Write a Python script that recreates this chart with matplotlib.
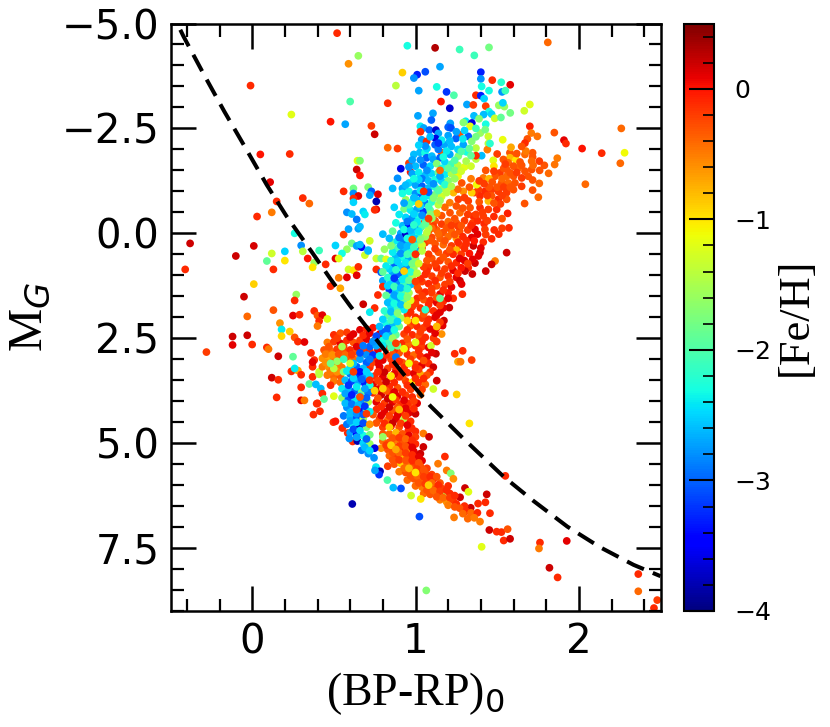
#!/usr/bin/env python3
# Colour-magnitude diagram of stars, coloured by metallicity.

import numpy as np
import matplotlib
matplotlib.use('Agg')
import matplotlib.pyplot as plt
from matplotlib.ticker import MultipleLocator

# Dashed line.
curve_x = [-0.44, -0.42, -0.295, -0.17, -0.04, 0.09, 0.21, 0.375, 0.48, 0.6, 0.72, 0.915, 1.09, 1.293, 1.54, 1.72, 1.93, 2.13, 2.335, 2.5]
curve_y = [-4.85, -4.69, -3.78, -2.9, -2.03, -1.15, -0.41, 0.5, 1.09, 1.73, 2.33, 3.3, 4.11, 4.89, 5.8, 6.37, 6.99, 7.48, 7.9, 8.17]

# Stars as (BP-RP, M_G, [Fe/H]), one list for each part of the diagram.
outliers = [
 (.52,-4.77,-.1),(.65,-4.23,-1.6),(.59,-4.04,-.6),(.95,-4.47,-2.3),(.92,-3.83,-.9),(1.01,-3.78,-3.3),(.99,-3.7,-2.8),
 (-.01,-3.52,-.1),(.88,-3.52,-1.4),(1.02,-3.4,-2.7),(.6,-3.14,-2.0),(.83,-3.1,-.1),(.24,-2.83,-1.2),(.48,-2.66,0),
 (.57,-2.6,-2.7),(.73,-2.56,-.2),(.75,-2.36,.2),(.05,-1.88,0),(.23,-1.89,-.1),(.83,-2.04,-.4),(.89,-2.02,-.2),
 (.99,-1.88,-2.6),(.96,-1.67,-.2),(.645,-1.73,-1.2),(.66,-1.73,-1.7),(.64,-1.52,.2),(.66,-1.38,0),(.91,-1.54,-3.6),
 (.89,-1.31,-2.8),(.97,-1.46,0),(.11,-1.22,.1),(.56,-1.0,-.1),(.62,-1.07,-1.8),(.62,-.95,-2.8),(.65,-.89,.1),
 (.62,-.83,-.1),(.62,-.74,-2.5),(.71,-1.1,-1.7),(.73,-1.0,-3),(.72,-.91,-2.7),(.77,-.93,.1),(.76,-.76,-3.8),
 (.86,-1.07,-2.6),(.92,-1.07,-2.7),(.31,-.84,-.1),(.35,-.71,-.4),(.15,-.76,-.1),(.12,-.5,-.5),(.03,-.4,-.1),
 (.58,-.5,-2.8),(.61,-.46,-2.6),(.68,-.52,-2.5),(.69,-.45,-2.4),(.76,-.57,.1),(.75,-.56,-.1),(.87,-.62,-2.5),
 (-.38,.24,.2),(-.41,.86,-.1),(-.1,.54,.2),(.01,.3,.15),(.12,.48,-1.3),(.09,.66,-1.9),(.13,.86,-.1),(.2,.43,-2.5),
 (.2,.65,-1),(.26,0,-2.3),(.3,.29,-2.8),(.31,.43,-1.4),(.34,.6,0),(.41,.41,-2.1),(.38,.7,-1.6),(.37,.81,-1),
 (.45,.74,-.1),(.56,.03,-.2),(.59,-.1,-2.7),(.64,-.33,-2.9),(.65,-.11,-2.7),(.66,-.16,-2.6),(.51,.29,-2.5),
 (.61,.24,-1.8),(.64,.3,-2.7),(.67,.33,-3.5),(.66,.27,-2.6),(.71,.4,-2.6),(.69,.52,-1.3),(.58,.38,-1.6),(.55,.48,-2.3),
 (.51,.6,.1),(.53,.6,-1.2),(.59,.86,-1.3),(.62,.88,-1),(.65,.8,-.1),(.64,1,.1),(.53,1.06,-.5),(.58,1.05,.1),
 (.48,1.26,-.1),(.54,1.31,-.7),(.01,1.21,-.9),(-.05,1.51,.2),(.27,1.46,-1.6),(.26,1.6,-.1),(.13,1.83,-.3),(-.03,1.98,-.4),
 (.38,1.85,-.1),(.25,1.96,.1),(.29,1.94,-.1),(.4,1.96,-.3),(.43,1.95,.1),(.46,2.04,-1.2),(.41,2.09,-.1),(.4,2.21,-.5),
 (.17,2.14,-.6),(.18,2.29,-2.4),(.23,2.34,-.9),(.18,2.45,-.95),(-.12,2.46,.2),(-.03,2.43,.2),(-.12,2.66,.1),(0,2.65,-.1),
 (-.28,2.83,-.2),(.09,2.72,-.1),(.1,2.76,-.5),(.16,2.93,.2),(.25,2.94,-1.9),(.26,2.48,-.3),(.28,2.58,-.1),(.32,2.59,.1),
 (.24,3.29,-.1),(.28,3.27,-.7),(.26,3.22,-2.4),(.3,3.37,-.1),(.12,3.44,.2),(.16,3.49,-.1),(.15,3.91,-.1),(.3,3.67,-.1),
 (.3,3.98,.1),(.32,3.98,-.5),(.4,4.05,-.1),(.35,3.59,-1.9),(.39,3.6,-2.6),(.42,3.7,-2.6),(.43,3.82,-.1),(.44,3.95,-1.9),
 (.5,3.88,-1.2),(.37,3.18,-.1),(.36,2.85,-.1),(.38,3.02,-.1),(.37,3.07,.1),(.37,3.42,-.1),(.41,3.3,-1.3),(.41,3.36,-1.4),
 (.375,4.32,-.1),(.415,4.24,-.1),(.395,4.06,-.1),(.497,4.5,-.1),(.51,4.48,0),(.552,4.64,-.1),(.585,4.76,-.1),(.615,4.96,-.1),
 (1.81,-4.55,-.4),(1.12,-4.42,.3),(1.27,-4.38,-2.1),(1.36,-4.24,-2.1),(1.45,-4.43,-1.8),(1.15,-3.97,-2.7),(1.06,-3.85,-3.1),
 (1.4,-3.84,-3.3),(1.4,-3.68,-2.8),(1.47,-3.65,-.1),(1.525,-3.6,-2.2),(1.58,-3.54,.1),(1.405,-3.5,-2.3),(1.45,-3.4,-2.3),
 (1.13,-3.49,-2.3),(1.19,-3.37,-3.2),(1.235,-3.29,-2.0),(1.37,-3.29,-.1),(1.4,-3.28,-3.3),(1.42,-3.21,-2.5),(1.53,-3.37,-2.8),
 (1.55,-3.4,-2.1),(1.156,-3.14,0),(1.21,-2.98,-3.7),(1.315,-3.07,-2.7),(1.354,-3.06,-.2),(1.43,-3.03,-.2),(1.51,-3.05,-1.6),
 (1.544,-3.02,-1.6),(1.535,-3.11,-2.5),(1.70,-3.07,-1.2),(1.666,-2.92,-1.3),(1.58,-2.87,-1.8),
 (1.85,-2.4,-.3),(1.909,-2.22,.1),(1.921,-2.14,-.1),(2.02,-2.02,0),(2.14,-1.91,-.1),(2.28,-1.92,-1.1),(2.254,-1.67,-.4),
 (2.26,-2.5,-.4),(2.04,-1.17,-.4),
 (1.33,4.53,-1),(1.55,5.78,-.1),(1.18,5.32,-.1),(1.762,7.37,-.1),(1.756,7.51,-.5),(1.926,7.33,.1),(1.82,7.97,.2),(1.87,8.2,-.1),
 (1.405,7.47,-1.2),(1.066,8.51,-1.7),(2.364,8.12,-.1),(2.364,8.53,-.4),(2.48,8.74,-.2),(2.46,8.93,-.1),(.613,6.45,-3.8),
 (1.024,6.75,-3.1),(1.452,7.07,.2),(1.497,7.11,-.1),(1.526,7.12,-.1),(1.564,7.05,-.3),(1.54,7.32,-.1),(1.579,7.28,.2),
 (1.24,2.87,-.1),(1.26,3.06,-.7),(1.276,3.06,-.5),(1.289,2.8,-.1),(1.344,3.02,-.2),(1.18,3.81,-.1),(1.252,3.84,-.9),
 (.76,.86,-.1),(.79,.93,-3),(.8,1.13,-2.7),(.77,1.47,-.1),(.8,1.27,-.1),(.75,1.78,-.1),(.72,1.88,-2.4),(.68,1.69,.2),
 (.72,.18,-1.3),(.76,.6,-1.3),(.79,.6,-1.9),(.82,.62,-1.2),(.8,.02,-2.6),(.86,.22,-2),(.81,.38,-1.6),(.71,.42,-2.6),
]

red_giants = [
 (1.70,-2.55,-.05),(1.709,-2.39,-.5),(1.746,-2.31,-.45),(1.685,-2.25,-.3),(1.67,-2.15,-.1),(1.868,-1.79,-.5),(1.852,-1.64,-.45),
 (1.815,-1.43,-.4),(1.789,-1.62,-.3),(1.758,-1.72,-.2),(1.76,-1.5,-.3),(1.717,-1.92,-.3),(1.717,-1.82,-.3),(1.711,-1.72,-.4),
 (1.711,-1.52,-.3),(1.717,-1.27,-.3),(1.758,-1.19,-.4),(1.717,-1.03,-.3),(1.752,-.86,-.4),(1.668,-.71,-.3),(1.564,-.475,-.05),
 (1.67,-1.88,-.4),(1.676,-1.96,-.5),(1.65,-2.07,-.3),(1.578,-1.92,-.3),(1.585,-2.05,-.7),(1.609,-1.8,-.4),(1.578,-1.8,-.8),
 (1.615,-1.75,-1),(1.568,-1.68,-.4),(1.538,-1.76,-.3),(1.5,-1.89,-.2),(1.476,-1.74,-1.2),(1.48,-1.6,-1),(1.63,-1.56,-.4),
 (1.67,-1.48,-.3),(1.69,-1.36,-.3),(1.65,-1.32,-.2),(1.6,-1.36,-.3),(1.558,-1.52,-.3),(1.558,-1.36,-.4),(1.517,-1.44,-.2),
 (1.487,-1.36,-.3),(1.527,-1.2,-.3),(1.568,-1.2,-.4),(1.609,-1.2,-.3),(1.65,-1.12,-.2),(1.6,-1.04,-.3),(1.558,-.97,-.2),
 (1.558,-.81,-.3),(1.507,-1.0,-.2),(1.507,-.81,-.1),(1.466,-1.04,-.2),(1.466,-.89,-.3),(1.446,-.77,-.8),(1.425,-1.0,-.1),
 (1.385,-1.04,-.2),(1.395,-.89,-.1),(1.36,-.97,-.2),(1.344,-.97,-.9),(1.374,-1.16,-1.1),(1.415,-1.32,-.5),(1.45,-1.3,-.8),
 (1.283,-1.2,-.3),(1.293,-1.0,-.6),(1.232,-.97,-.8),(1.262,-.81,-.2),(1.21,-.73,-.5),(1.323,-.77,-.2),(1.334,-.61,-.3),
 (1.395,-.61,-.1),(1.446,-.57,-.2),(1.497,-.57,-.1),(1.354,-.41,-.1),(1.272,-.49,-.4),(1.211,-.49,-.3),(1.415,-.41,-.2),
 (1.48,-.4,-.1),(1.45,-1.1,-.3),(1.42,-1.18,-.2),(1.5,-1.1,-.3),(1.54,-1.1,-.2),(1.33,-1.1,-.3),(1.26,-1.05,-.4),(1.6,-1.6,-.3),
 (1.54,-1.55,-.3),(1.64,-1.7,-.3),(1.52,-.7,-.2),(1.44,-.9,-.2),(1.39,-.75,-.3),(1.3,-.85,-.2),(1.25,-.65,-.3),(1.35,-.25,-.2),
 (1.42,-.23,-.1),(1.482,-.08,-.1),(1.425,-.095,-.2),(1.364,-.095,.1),(1.572,-.13,-.1),(1.466,.13,-.1),(1.415,.21,-.1),
 (1.558,.46,.2),(1.487,.66,-.5),(1.466,.74,.2),(1.43,.9,.2),(1.348,.97,.2),(1.364,.71,.2),(1.323,.82,-.1),(1.303,.9,.2),
 (1.395,.46,.2),(1.385,.54,.1),(1.354,.3,.2),(1.344,.1,.1),
 (1.05,-.25,-.3),(1.08,-.2,-.4),(1.12,-.3,-.3),(1.16,-.22,-.2),(1.2,-.28,-.4),(1.25,-.25,-.3),(1.3,-.3,-.2),(1.08,-.05,-.3),
 (1.13,-.08,-.35),(1.17,-.02,-.3),(1.22,-.06,-.4),(1.27,-.05,-.3),(1.32,-.08,-.2),(1.1,.1,-.25),(1.15,.12,-.35),(1.2,.08,-.4),
 (1.25,.12,-.7),(1.29,.08,-.1),(1.06,.22,-.2),(1.12,.25,-.3),(1.17,.27,-.4),(1.22,.3,-.2),(1.27,.28,-.2),(1.31,.25,-.1),(1.25,.4,-.8),
 (1.14,.45,-.3),(1.19,.48,-.2),(1.23,.5,-.1),(1.28,.5,-.2),(1.33,.48,0),(1.1,.6,-.3),(1.15,.65,-.2),(1.2,.68,-.3),(1.25,.7,-.1),
 (1.3,.65,.1),(1.08,.8,-.2),(1.13,.82,-.1),(1.18,.85,-.2),(1.23,.88,.1),(1.28,.82,0),(1.06,.98,-.1),(1.1,1.02,-.2),(1.15,1.05,-.3),
 (1.2,1.02,-.1),(1.25,1.05,.1),(1.272,1.13,.2),(1.282,1.21,.1),(1.04,1.15,-.2),(1.08,1.2,-.1),(1.13,1.25,-.3),(1.18,1.22,-.2),
 (1.22,1.28,.1),(1.287,1.45,-.1),(1.231,1.55,-.1),(1.207,1.77,.2),(1.17,1.78,.1),(1.02,1.35,-.2),(1.06,1.4,-.1),(1.1,1.42,-.2),
 (1.15,1.45,.1),(1.2,1.42,0),(1.01,1.55,-.1),(1.05,1.58,-.3),(1.09,1.6,-.1),(1.13,1.65,.1),(1.17,1.62,-.1),(.98,1.75,-.2),
 (1.03,1.78,-.1),(1.07,1.82,-.3),(1.11,1.85,-.1),(1.15,1.88,.1),(.95,1.95,-.2),(1,2,-.1),(1.04,2.02,-.2),(1.08,2.05,-.1),
 (1.12,2.0,.1),(1.174,2.08,.2),(.97,2.2,-.3),(1.01,2.22,-.1),(1.05,2.25,-.2),(1.09,2.28,.1),(1.13,2.25,-.1),(1.166,2.2,.1),
 (.93,2.4,-.2),(.98,2.42,-.1),(1.02,2.45,-.3),(1.06,2.48,-.1),(1.11,2.5,-.2),(1.16,2.4,-.6),(.92,2.62,-.1),(.96,2.65,-.4),
 (1,2.68,-.1),(1.04,2.7,-.2),(1.08,2.72,.1),(1.095,2.68,-1.3),(1.125,2.87,.2),(.9,2.85,-.3),(.95,2.88,-.1),(.99,2.9,-.4),
 (1.03,2.93,-.1),(1.07,2.95,.1),(.92,3.08,-.3),(.96,3.1,-.1),(1,3.12,-.2),(1.04,3.14,.1),(1.08,3.1,-.1),(1.109,3.19,.2),
 (1.089,3.31,-.1),(.9,3.3,-.2),(.95,3.32,-.1),(.99,3.34,.1),(1.03,3.36,-.7),(1.07,3.38,-.3),(1.13,3.51,.2),(.94,3.52,-.2),
 (.98,3.55,-1),(1.02,3.56,-.1),(1.06,3.6,-.4),(1.109,3.71,-1.3),(.97,3.72,-.2),
 (1.03,-.14,-.3),(1.11,-.17,-.2),(1.19,-.13,-.3),(1.26,-.17,-.2),(1.34,-.19,-.1),(1.07,.04,-.2),(1.14,.01,-.4),(1.24,.03,-.3),
 (1.31,.17,-.1),(1.09,.17,-.3),(1.18,.18,-.3),(1.26,.21,-.1),(1.36,.18,0),(1.12,.37,-.2),(1.21,.39,-.3),(1.3,.36,-.1),(1.08,.5,-.2),
 (1.17,.57,-.3),(1.27,.6,.1),(1.35,.62,.1),(1.12,.73,-.2),(1.22,.78,-.1),(1.32,.72,-.2),(1.07,.9,-.1),(1.16,.95,-.2),(1.26,.95,-.1),
 (1.03,1.08,-.1),(1.12,1.13,-.1),(1.21,1.15,-.2),(1.01,1.27,-.3),(1.1,1.32,-.2),(1.17,1.35,-.1),(1.04,1.49,-.2),(1.13,1.53,-.3),
 (1.2,1.55,.1),(1,1.67,-.2),(1.08,1.7,-.1),(1.15,1.72,-.2),(.97,1.88,-.1),(1.05,1.92,-.3),(1.13,1.95,.1),(.99,2.11,-.2),(1.07,2.15,-.1),
 (1.15,2.12,-.2),(.95,2.3,-.1),(1.03,2.35,-.2),(1.12,2.38,.1),(.95,2.52,-.3),(1.04,2.57,-.1),(1.13,2.58,-.2),(.94,2.76,-.2),(1.02,2.8,-.1),
 (1.1,2.84,.1),(.97,3,-.2),(1.05,3.03,-.3),(.93,3.2,-.1),(1.02,3.24,-.2),(1.05,3.46,-.1),(.92,3.42,-.3),(1,3.46,-.1),(1.04,3.72,-.2),
 (.95,3.62,-.1),(1.43,-1.5,-.3),(1.48,-1.48,-.2),(1.58,-1.44,-.3),(1.62,-1.45,-.2),(1.53,-1.3,-.4),(1.47,-1.22,-.3),(1.39,-1.25,-.2),
 (1.34,-1.3,-.5),(1.58,-1.1,-.3),(1.53,-.9,-.2),(1.48,-.72,-.3),(1.41,-.5,-.2),(1.29,-.6,-.3),(1.32,-.45,-.2),(1.24,-.35,-.3),(1.38,-.3,-.1),
 (1.65,-1.62,-.3),(1.72,-1.62,-.4),(1.62,-1.9,-.3),(1.55,-1.65,-.2),
 (1.18,-.62,-.4),(1.16,-.42,-.3),(1.1,-.12,-.4),(1.03,.12,-.3),(1.04,.35,-.2),(1.07,.65,-.3),(1.05,.8,-.2),(1.28,-.18,-.3),(1.22,-.19,-.2),
 (1.38,.02,.1),(1.43,.03,-.2),(1.4,.35,.1),(1.37,-.45,-.2),(1.44,-.3,-.2),(1.53,-.35,-.3),(1.51,.02,-.1),(1.53,-.12,-.2),
]

turnoff_red = [
 (.5,2.42,-.1),(.54,2.38,-.3),(.58,2.36,-.2),(.62,2.4,.1),(.66,2.3,.1),(.7,2.28,-.1),(.74,2.25,0),(.78,2.4,.1),(.46,2.6,-.5),(.5,2.58,-.2),
 (.54,2.62,.1),(.58,2.55,-.1),(.62,2.6,-.3),(.66,2.55,-.2),(.7,2.52,.1),(.75,2.55,-.1),(.8,2.52,.1),(.85,2.55,-.2),(.44,2.78,-.3),
 (.48,2.8,-.4),(.52,2.76,-.2),(.56,2.8,-.3),(.6,2.78,-.1),(.64,2.82,-.3),(.68,2.75,-.2),(.72,2.8,-.1),(.77,2.78,.1),(.82,2.75,-.2),
 (.87,2.78,-.1),(.43,2.98,-.6),(.47,3,-.7),(.5,2.96,-.5),(.54,3,-.4),(.58,2.95,-.3),(.62,3,-.4),(.75,3,-.1),(.8,3.02,.1),(.85,3,-.2),
 (.88,3.1,-.1),(.43,3.18,-.5),(.47,3.2,-.6),(.51,3.15,-.4),(.55,3.2,-.5),(.72,3.2,-.1),(.78,3.18,.1),(.83,3.22,-.2),(.88,3.25,-.1),
 (.46,3.38,-.5),(.5,3.42,-.4),(.54,3.4,-.3),(.75,3.4,-.1),(.8,3.42,.1),(.85,3.45,-.3),(.9,3.42,-.1),(.74,3.6,.1),(.79,3.62,-.2),(.84,3.65,-.1),
 (.89,3.68,-.3),(.74,3.8,-.1),(.79,3.85,.2),(.84,3.82,-.1),(.89,3.88,.1),(.94,3.86,-.2),(.98,3.9,-.1),(1.03,3.85,-.4),(.76,4.02,.1),
 (.81,4.05,-.2),(.86,4.02,.1),(.91,4.08,-.1),(.96,4.1,-.3),(1.01,4.05,.1),(.76,4.2,-.1),(.81,4.25,.1),(.86,4.22,-.3),(.91,4.28,-.1),
 (.952,4.05,-.1),(.96,4.28,.1),(1.0,4.3,.2),(.78,4.42,-.2),(.83,4.45,-.4),(.88,4.42,.1),(.93,4.42,-1.4),(.97,4.48,-.1),(.8,4.62,-.2),
 (.85,4.6,-.1),(.9,4.62,-.3),(.956,4.7,-.1),(.977,4.64,-.1),(1.0,4.72,-.1),
 (.52,2.5,-.2),(.6,2.47,.1),(.68,2.43,-.1),(.72,2.38,.1),(.82,2.62,-.1),(.77,2.66,-.2),(.73,2.65,.1),(.47,2.7,-.3),(.56,2.69,-.2),(.64,2.7,.1),
 (.86,2.88,-.3),(.82,2.9,-.1),(.77,3.09,.1),(.73,3.1,-.2),(.86,3.12,-.1),(.81,3.31,.2),(.77,3.3,-.1),(.87,3.35,.1),(.71,3.5,.1),(.77,3.51,-.2),
 (.82,3.54,.2),(.87,3.55,-.1),(.72,3.7,-.2),(.77,3.72,.1),(.82,3.75,-.3),(.87,3.78,.1),(.92,3.78,-.1),(.77,3.93,-.3),(.83,3.94,.2),(.88,3.97,-.2),
 (.93,3.98,.1),(.99,4,-.2),(.79,4.13,-.1),(.84,4.14,.2),(.89,4.15,-.3),(.94,4.17,.1),(.99,4.18,-.1),(.74,4.32,-.3),(.79,4.34,.1),(.84,4.35,-.2),
 (.89,4.33,.1),(.94,4.35,-.2),(.76,4.52,-.3),(.81,4.53,-.1),(.86,4.52,.2),(.91,4.53,-.2),(.95,4.57,.1),
 (.45,2.88,-.5),(.49,2.9,-.6),(.53,2.88,-.3),(.57,2.9,-.4),(.61,2.89,-.2),(.66,2.92,-.5),(.45,3.08,-.6),(.49,3.1,-.4),(.53,3.1,-.5),(.48,3.3,-.5),
 (.52,3.3,-.6),(.5,3.52,-.5),(.54,3.55,-.4),(.48,3.62,-.1),
]

tail = [
 (.8,4.78,-.3),(.84,4.78,-.4),(.88,4.75,-.8),(.92,4.78,-.3),(.96,4.82,.1),(1.0,4.85,-.2),(1.048,4.77,-.5),(1.083,4.85,.2),
 (.8,4.95,-.4),(.84,4.98,-.3),(.88,4.92,-.5),(.92,4.98,-.3),(.96,5,.1),(1,5.02,-.1),(1.048,5.09,.2),(.79,5.12,-.6),(.83,5.15,-.3),
 (.87,5.13,-.4),(.91,5.14,-.1),(.95,5.18,-.5),(.99,5.2,.1),(1.03,5.25,.2),(.84,5.3,-.4),(.88,5.3,-.2),(.92,5.32,-.8),(.96,5.32,-.3),
 (1,5.38,-.1),(1.04,5.42,.1),(.83,5.55,-.2),(.87,5.5,-.3),(.91,5.48,-.9),(.95,5.5,-.4),(.99,5.5,-.2),(1.03,5.55,-.3),(1.07,5.6,-.2),
 (1.138,5.49,-.5),(.9,5.68,-.5),(.94,5.7,-.3),(.98,5.68,-.4),(1.02,5.7,-.2),(1.06,5.72,-.3),(1.1,5.75,-.2),(1.191,5.65,-.5),
 (1.216,5.72,-1.7),(.95,5.88,-.4),(.99,5.85,-.3),(1.03,5.88,-.4),(1.07,5.9,-.2),(1.11,5.85,-.1),(1.15,5.95,-.3),(1.232,5.85,-.6),
 (1.0,6.02,-.4),(1.04,6.05,-.5),(1.08,6.02,.1),(1.12,6.05,-.2),(1.16,6.08,-.2),(1.2,6.02,-.1),(1.303,6.07,.2),(1.324,6.16,-1.2),
 (1.05,6.2,-.4),(1.09,6.22,-.3),(1.13,6.18,-.5),(1.17,6.2,-1.5),(1.21,6.2,-.1),(1.273,6.29,.2),(1.436,6.22,.2),(1.428,6.41,-.1),
 (1.383,6.44,-.1),(1.15,6.35,-.5),(1.19,6.4,-.6),(1.23,6.36,-.2),(1.25,6.45,-.1),(1.338,6.54,.2),(1.3,6.5,-.1),(1.27,6.55,-.3),
 (1.31,6.62,-.1),(1.34,6.66,-.4),(1.379,6.66,-.1),(1.456,6.67,-.1),(1.29,6.68,-.4),(1.236,6.77,-.5),(1.32,6.8,-.4),(1.36,6.78,-.5),
 (1.395,6.87,-.5),
 (.86,4.88,-.3),(.9,4.87,-.2),(.94,4.9,-.4),(.98,4.93,-.1),(.82,5.05,-.2),(.86,5.06,-.4),(.9,5.07,-.2),(.94,5.08,-.3),(.98,5.1,.1),
 (.86,5.22,-.3),(.9,5.23,-.4),(.94,5.24,-.2),(.98,5.28,-.1),(1.02,5.33,.1),(.86,5.4,-.3),(.9,5.4,-.2),(.94,5.41,-.3),(.98,5.41,-.1),(1.02,5.47,-.3),
 (.93,5.6,-.4),(.97,5.6,-.3),(1.01,5.62,-.2),(1.05,5.64,-.3),(.97,5.78,-.3),(1.01,5.78,-.4),(1.05,5.8,-.2),(1.09,5.8,-.1),(1.13,5.8,-.3),
 (1.02,5.95,-.3),(1.06,5.97,-.2),(1.1,5.95,-.4),(1.14,6,-.1),(1.07,6.12,-.3),(1.11,6.13,-.4),(1.15,6.15,-.2),(1.19,6.12,-.1),(1.13,6.28,-.3),
 (1.17,6.3,-.4),(1.21,6.3,-.2),(1.24,6.25,-.1),(1.2,6.48,-.5),(1.24,6.52,-.3),
]

blue_giants = [
 (1.45,-2.9,-2.3),(1.466,-2.84,-2.5),(1.417,-2.83,-2.6),(1.358,-2.8,-2.6),(1.107,-2.86,-2.7),(1.015,-2.8,-2.7),(1.097,-2.7,-3),
 (1.485,-2.74,-1.3),(1.523,-2.76,-1.9),(1.389,-2.73,-1.7),(1.307,-2.67,-2.4),(1.293,-2.64,-1.7),(1.43,-2.6,-2.3),(1.345,-2.63,-3.6),
 (1.213,-2.62,-2.7),(1.2,-2.53,-3),(1.03,-2.55,-2.4),(1.05,-2.51,-2.7),(1.085,-2.46,-3),(1.125,-2.46,-3.7),(1.14,-2.38,-2.7),
 (1.03,-2.42,-.1),(1.217,-2.51,-3.1),(1.334,-2.55,-1.2),(1.397,-2.39,-1.6),(1.446,-2.31,-1.3),(1.427,-2.47,-1.8),(1.323,-2.31,-3),
 (1.27,-2.35,-.3),(1.248,-2.26,-3),(1.2,-2.33,-2.7),(1.123,-2.26,-3.6),(1.038,-2.23,-2.7),(1.068,-2.19,-.1),(1.12,-2.11,-3),
 (1.176,-2.11,-2.7),(1.22,-2.07,-2.6),(1.293,-2.11,-2.7),(1.344,-2.19,-1.7),(1.37,-2.03,-1.4),(1.446,-2.14,-1.4),(1.44,-1.995,-.5),
 (1.456,-2.14,-2.2),(1.534,-2.23,-1.15),(1.027,-1.93,-2.6),(1.058,-1.92,-2.3),(1.16,-1.92,-.3),(1.068,-1.8,-3),(1.1,-1.84,-2.6),
 (1.109,-1.76,-2.7),(1.15,-1.8,-3),(1.21,-1.88,-2.7),(1.262,-1.84,-1.7),(1.313,-1.94,-2.3),(1.37,-1.77,-1.4),(1.405,-1.85,-2.6),
 (1.37,-1.85,-.1),(1.048,-1.63,-3),(1.0,-1.6,-2.6),(1.09,-1.6,-2.5),(1.13,-1.66,-1.7),(1.18,-1.7,-2.5),(1.22,-1.65,-2.1),(1.26,-1.62,-1.4),
 (1.3,-1.58,-1.2),(1.34,-1.6,-1.3),(.98,-1.42,-2.7),(1.02,-1.45,-2.4),(1.06,-1.38,-2.6),(1.1,-1.42,-2.5),(1.14,-1.45,-1.9),(1.18,-1.4,-2.4),
 (1.22,-1.42,-1.5),(1.26,-1.36,-1.1),(1.04,-1.3,-2.9),(1.08,-1.25,-2.6),(1.12,-1.28,-2.3),(1.16,-1.24,-2.5),(1.2,-1.25,-1.7),(.96,-1.2,-2.5),
 (1.0,-1.15,-2.7),(1.04,-1.12,-3),(1.08,-1.08,-2.6),(1.12,-1.1,-2.2),(1.16,-1.06,-1.6),(1.2,-1.1,-1.3),(.96,-1,-2.3),(1,-.95,-2.8),
 (1.04,-.92,-3.1),(1.08,-.9,-2.4),(1.12,-.92,-1.8),(1.16,-.88,-1.3),(.94,-.8,-1.6),(.98,-.75,-2.3),(1.02,-.78,-2.6),(1.06,-.72,-2.9),
 (1.1,-.75,-2.2),(1.14,-.68,-1.4),(.93,-.58,-1.8),(.97,-.55,-2.4),(1.01,-.58,-2.7),(1.05,-.52,-3.2),(1.09,-.55,-1.9),(1.13,-.48,-.7),
 (.94,-.38,-2.5),(.98,-.36,-2.8),(1.02,-.4,-2.3),(1.06,-.33,-2.4),(1.1,-.36,-1.6),(.92,-.18,-2.6),(.96,-.2,-3.4),(1,-.15,-2.7),(1.04,-.17,-2),
 (1.08,-.12,-1.5),(.91,0,-2.7),(.94,.03,-3.7),(.98,.02,-2.5),(1.02,.05,-2.1),(1.06,.08,-1.6),(.89,.18,-2.4),(.93,.2,-2.9),(.97,.22,-2.5),
 (1.01,.24,-1.9),(1.04,.28,-1.3),(.89,.36,-2.1),(.93,.4,-2.6),(.97,.42,-2.3),(1.01,.44,-2.7),(.88,.55,-2.6),(.92,.58,-2.3),(.96,.6,-2.7),
 (1,.62,-1.7),(.87,.75,-3),(.91,.78,-2.5),(.95,.8,-2.8),(.99,.82,-1.6),(.86,.95,-2.7),(.9,.98,-3),(.94,1,-2.4),(.98,1.02,-1.5),
 (.85,1.15,-2.5),(.89,1.18,-2.8),(.93,1.2,-2.1),(.97,1.22,-2.6),(.84,1.35,-3.2),(.88,1.38,-2.5),(.92,1.4,-2),(.96,1.42,-1.5),
 (.85,1.55,-2.4),(.89,1.58,-2.7),(.93,1.62,-1.9),(.97,1.6,-1.2),(.85,1.75,-2.5),(.89,1.78,-2.1),(.93,1.82,-2.4),(.83,1.95,-1.9),(.87,1.98,-2.3),
 (.91,2.02,-1.5),(.95,2.08,-.9),(.82,2.15,-2.3),(.86,2.18,-2.6),(.9,2.22,-1.8),(.8,2.35,-3),(.84,2.38,-2.7),(.88,2.42,-1.9),(.8,2.55,-2.3),(.84,2.6,-2.1),
 (.89,2.68,-1.8),(.93,2.75,-1.1),(.88,2.95,-2.9),(.72,2.7,-3),(.76,2.68,-2.7),(.7,2.9,-2.8),(.74,2.9,-3.2),(.78,2.92,-2.4),
 (.66,3.0,-2.7),(.7,3.08,-3),(.64,3.18,-3),(.68,3.22,-2.6),(.6,3.2,-2.5),(.56,3.3,-1.7),(.6,3.35,-2.9),(.64,3.38,-3.2),(.68,3.42,-2.8),
 (.72,3.4,-2.5),(.57,3.5,-2.6),(.61,3.52,-3.1),(.65,3.55,-2.7),(.69,3.58,-3.3),(.72,3.62,-2.3),(.55,3.7,-2.4),(.59,3.72,-2.6),(.63,3.75,-3),
 (.67,3.78,-1.8),(.71,3.8,-2.9),(.55,3.92,-1.6),(.59,3.95,-3.1),(.63,3.98,-2.4),(.67,4,-2.8),(.71,4.02,-1.4),(.58,4.15,-2.8),(.62,4.18,-2.5),
 (.66,4.2,-3.4),(.7,4.22,-1.9),(.56,4.35,-2.9),(.6,4.38,-2.6),(.64,4.4,-3.1),(.68,4.42,-1.5),(.58,4.55,-2.9),(.62,4.58,-2.4),(.66,4.6,-3.7),
 (.7,4.62,-1.7),(.6,4.75,-2.7),(.64,4.78,-3.5),(.68,4.82,-2.3),(.72,4.8,-1.8),(.595,4.89,-2.8),(.644,4.95,-3.8),(.68,5,-2.5),(.72,5.02,-1.6),
 (.67,5.17,-2.9),(.711,5.25,-2.8),(.75,5.12,-3.6),(.746,5.35,-2.8),(.758,5.57,-2.4),(.783,5.67,-3.8),(.777,5.75,-3.2),(.752,5.65,-2.7),
 (.828,5.88,-2),(.864,6.06,-2.6),(.911,6.08,-3.1),(.973,6.25,-1.3),(1.032,6.33,-1),
 (1.07,-2.02,-2.5),(1.14,-2.0,-2.9),(1.19,-1.96,-2.4),(1.26,-2.0,-2.5),(1.33,-2.02,-1.9),(1.03,-1.75,-2.8),(1.17,-1.82,-2.3),(1.24,-1.74,-2),
 (1.31,-1.72,-1.5),(1.02,-1.28,-2.5),(1.24,-1.5,-1.8),(1.16,-1.55,-2.3),(1.07,-1.5,-2.8),(.99,-1.3,-2.3),(1.11,-1.18,-2.8),(1.18,-1.16,-2.2),
 (1.03,-1.02,-2.4),(1.08,-.98,-3),(1.14,-1.02,-2),(.99,-.85,-2.6),(1.05,-.83,-2.4),(1.11,-.84,-1.7),(.96,-.68,-2.1),(1.03,-.65,-2.5),(1.08,-.64,-2.1),
 (.99,-.46,-2.5),(1.04,-.43,-2.8),(1.09,-.45,-1.7),(.95,-.28,-2.9),(1.01,-.27,-2.4),(1.06,-.23,-1.9),(.93,-.09,-2.3),(.97,-.07,-2.6),(1.02,-.05,-2.4),
 (.9,.1,-2.9),(.95,.12,-2.3),(1,.13,-2.5),(1.03,.15,-1.7),(.91,.29,-2.7),(.95,.3,-2.6),(.99,.33,-2.1),(.86,.45,-2.4),(.91,.48,-2.8),(.95,.5,-2.1),
 (.99,.52,-1.9),(.85,.65,-2.2),(.89,.67,-2.5),(.94,.7,-2.4),(.98,.72,-1.8),(.84,.85,-2.5),(.88,.87,-2.2),(.93,.89,-3),(.97,.92,-2.2),(.83,1.05,-2.2),
 (.87,1.07,-3.2),(.92,1.1,-2.4),(.96,1.12,-1.9),(.83,1.25,-2.5),(.87,1.27,-2.1),(.91,1.3,-2.6),(.95,1.32,-2.2),(.82,1.48,-1.9),(.87,1.47,-2.7),(.91,1.5,-2.3),
 (.95,1.52,-1.7),(.83,1.65,-2.6),(.87,1.67,-2.3),(.91,1.7,-2.6),(.95,1.72,-1.4),(.81,1.85,-2.2),(.85,1.87,-2.6),(.89,1.9,-1.7),(.8,2.05,-2.5),(.85,2.07,-2.1),
 (.89,2.1,-2.5),(.78,2.22,-2.6),(.83,2.27,-3),(.87,2.3,-2.3),(.76,2.45,-3.1),(.82,2.45,-2.5),(.86,2.5,-1.6),(.74,2.58,-2.8),(.8,2.68,-2.4),(.85,2.72,-2),
 (.68,2.68,-2.9),(.66,2.85,-3.1),(.72,3,-2.9),(.62,3.1,-2.6),(.58,3.28,-2.4),(.66,3.3,-3.4),(.7,3.3,-2.5),(.62,3.45,-2.5),(.67,3.48,-3),(.59,3.62,-3.2),
 (.64,3.66,-2.4),(.69,3.7,-2.7),(.57,3.82,-2.7),(.61,3.85,-3.3),(.66,3.88,-2.5),(.7,3.92,-3),(.57,4.05,-2.6),(.61,4.07,-2.9),(.65,4.1,-2.6),(.69,4.12,-3.2),
 (.6,4.27,-2.6),(.64,4.3,-2.8),(.68,4.32,-3),(.72,4.25,-2.4),(.6,4.47,-2.7),(.64,4.5,-2.5),(.68,4.52,-3.1),(.62,4.67,-3.1),(.66,4.7,-2.5),(.64,4.86,-2.7),
 (.7,4.9,-3),(.69,5.1,-2.6),(.72,5.18,-2.5),
 (1.09,-2.3,-2.6),(1.16,-2.22,-2.4),(1.25,-2.42,-2.7),(1.3,-2.45,-2.5),(1.37,-2.5,-2.1),(1.29,-2.25,-2.4),(1.37,-2.3,-1.8),(1.06,-2.08,-2.8),(1.14,-2.15,-3.2),
 (1.21,-2.2,-2.6),(1.28,-1.95,-2),(1.34,-1.85,-1.9),(1.02,-2.1,-2.5),(.98,-1.75,-2.7),(.96,-1.58,-2.8),(1.15,-1.36,-2.7),(1.2,-1.55,-1.9),(1.28,-1.48,-1.3),
 (1.24,-1.3,-1.6),(1.22,-1.12,-1.5),(1.19,-.97,-1.4),(1.15,-.78,-1.6),(.92,-.95,-2.3),(.94,-1.15,-2.6),(.93,-.72,-2.7),(.9,-.45,-2.4),(.88,-.25,-2.3),(.86,-.05,-1.9),
 (.84,.12,-2.6),(.85,.3,-1.7),(.82,.78,-2.4),(.8,.92,-1.9),(.99,-.2,-2.2),(1.07,-.02,-1.4),(1.04,.42,-1.4),(1.02,.72,-1.3),(1.01,.95,-1.4),
]

# Metal-rich and intermediate stars that lie on top of the blue sequence.
on_top = [
 (1.05,-1.0,-.1),(1.15,-1.5,-.4),(1.02,-.7,-.9),(1.08,-.35,-.2),(.98,.15,-.3),(1.0,.5,-.1),(.93,.9,-.9),(1.0,1.15,-.2),(1.15,1.55,-1.9),
 (1.06,1.82,-2.2),(1.0,2.08,-1),(1.13,2.22,-.8),(1.0,2.6,-1.2),(.88,2.62,-.2),(.9,3.05,-.1),(1.0,3.2,-.1),(.96,3.1,-1.1),
 (.62,3.3,-.2),(.72,3.5,-.1),(.66,3.9,-.3),(.75,3.75,-.9),(.7,4.3,-.2),(.64,4.2,-.1),(.72,4.55,-.6),(.6,3.1,-1.3),(.52,3.05,-1.6),
 (.5,3.22,-1.4),(.48,3.1,-1.8),(.55,2.7,-1.5),(.56,3.0,-2.1),(.85,3.4,-1),(.8,3.7,-.9),(.86,3.9,-1.1),(.9,4.2,-.8),(.84,4.62,-.9),
 (.8,4.85,-1.6),(.85,5.05,-.9),(.88,5.15,-.7),(1.0,5.7,-1),(1.08,6.0,-.9),(.96,5.6,-.8),
]

fe_min = -4
fe_max = 0.5

stars = np.array(outliers + red_giants + turnoff_red + tail + blue_giants + on_top)

plt.rcParams['mathtext.default'] = 'it'

fig = plt.figure(figsize=(8.3, 7.27), dpi=100)
ax = fig.add_axes([170.5/830, 1-611/727, 490/830, 587.5/727])

sc = ax.scatter(stars[:, 0], stars[:, 1], c=stars[:, 2], cmap='jet', vmin=fe_min, vmax=fe_max, s=31, linewidths=0)
ax.plot(curve_x, curve_y, c='k', ls='--', lw=2.9, dashes=(4.6, 2.4))

ax.set_xlim(-0.5, 2.5)
ax.set_ylim(9, -5)
ax.xaxis.set_major_locator(MultipleLocator(1))
ax.xaxis.set_minor_locator(MultipleLocator(0.2))
ax.yaxis.set_major_locator(MultipleLocator(2.5))
ax.yaxis.set_minor_locator(MultipleLocator(0.5))
ax.tick_params(which='major', direction='in', top=True, right=True, length=18, width=1.8, labelsize=29, pad=8)
ax.tick_params(which='minor', direction='in', top=True, right=True, length=9, width=1.6)
for spine in ax.spines.values():
    spine.set_linewidth(1.8)

ax.set_xlabel('(BP-RP)$_0$', family='Liberation Serif', fontsize=33, labelpad=6)
ax.set_ylabel('M$_G$', family='Liberation Serif', fontsize=35, labelpad=7)

cax = fig.add_axes([684/830, 1-611/727, 30/830, 587.5/727])
cbar = fig.colorbar(sc, cax=cax)
cbar.set_ticks([-4, -3, -2, -1, 0])
cbar.ax.yaxis.set_minor_locator(MultipleLocator(0.2))
cbar.ax.tick_params(which='major', direction='in', length=18, width=1.5, labelsize=18, pad=15)
cbar.ax.tick_params(which='minor', direction='in', length=8, width=1.2)
cbar.outline.set_linewidth(1.5)
cbar.set_label('[Fe/H]', family='Liberation Serif', fontsize=32, labelpad=3)

fig.savefig('out.png', dpi=100)
